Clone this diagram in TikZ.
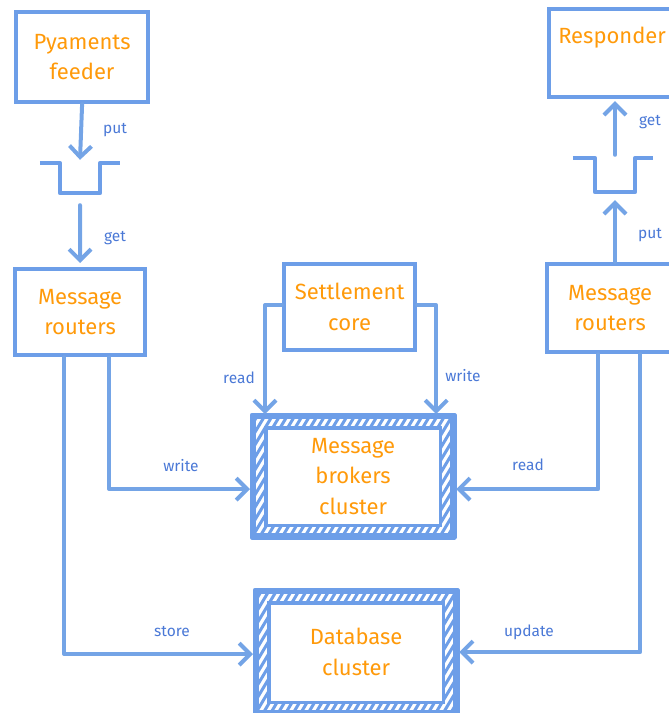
\documentclass[tikz,border=0pt]{standalone}
\usepackage{fontspec}
\setmainfont{Fira Sans}
\usetikzlibrary{arrows.meta}
\definecolor{edge}{HTML}{6D9EE8}
\definecolor{wire}{HTML}{74A4E6}
\definecolor{lbl}{HTML}{4A78D6}
\definecolor{ttl}{HTML}{FF9A0A}

% striped double frame drawn around a named cluster node
\newcommand\hatchframe[1]{%
  \begin{scope}[even odd rule]
    \clip (#1.north west) rectangle (#1.south east)
      ([shift={(14,13)}]#1.north west) rectangle ([shift={(-14,-12)}]#1.south east);
    \foreach \k in {-20,...,32}
      \draw[edge,line width=3pt] ([xshift={\k*7.5pt}]#1.south west) -- ++(84,-140);
  \end{scope}
  \draw[edge,line width=3.4pt] ([shift={(14,13)}]#1.north west) rectangle ([shift={(-14,-12)}]#1.south east);
  \draw[edge,line width=4.6pt,line join=round] (#1.north west) rectangle (#1.south east);
}

\begin{document}
\begin{tikzpicture}[x=1pt,y=-1pt,
  box/.style={draw=edge,line width=4.2pt,fill=white,anchor=north west,align=center,
    text=ttl,font=\fontsize{22}{30.5}\selectfont,inner sep=0pt},
  wirestyle/.style={draw=wire,line width=4pt,line cap=round,line join=round},
  arr/.style={wirestyle,-{Straight Barb[length=11pt,width=22pt]}},
  lab/.style={text=lbl,font=\fontsize{15.5}{17}\selectfont},
  queue/.style={minimum width=40pt,inner sep=0pt}]

\useasboundingbox (0,0) rectangle (669,713);
\clip (0,0) rectangle (669,713);

% boxes
\node[box,minimum width=132,minimum height=90] (feeder) at (14,10) {Pyaments\\feeder};
\node[box,minimum width=130,minimum height=86] (rl) at (13,267) {Message\\routers};
\node[box,minimum width=131,minimum height=86] (settle) at (282,262) {Settlement\\core};
\node[box,minimum width=126,minimum height=88] (resp) at (547,7) {Responder\\\vphantom{Ay}};
\node[box,minimum width=126,minimum height=88] (rr) at (545,262) {Message\\routers};
\node[box,minimum width=198,minimum height=118,text depth=0pt] (brokers) at (252,415) {Message\\brokers\\cluster};
\node[box,minimum width=198,minimum height=120] (db) at (255,590) {Database\\cluster};
\hatchframe{brokers}
\hatchframe{db}

% queues
\node[queue,minimum height=30pt] (q1) at (80,178) {};
\node[queue,minimum height=34pt] (q2) at (615,175) {};
\draw[wirestyle,draw=edge,line cap=butt] ([xshift=-20pt]q1.north west) -- (q1.north west) -- (q1.south west)
  -- (q1.south east) -- (q1.north east) -- ++(20,0);
\draw[wirestyle,draw=edge,line cap=butt] ([xshift=-22pt]q2.north west) -- (q2.north west) -- (q2.south west)
  -- (q2.south east) -- (q2.north east) -- ++(18,0);

% connectors
\draw[arr] (feeder.south) -- ([yshift=3pt]q1.north);
\draw[arr,shorten >=4pt] ([yshift=-12pt]q1.south) -- (rl.north);
\draw[arr] (q2.south |- rr.north) -- ([yshift=-8pt]q2.south);
\draw[arr,shorten >=2pt] ([yshift=3pt]q2.north) -- (q2.north |- resp.south);

\draw[arr,shorten >=1pt] ([yshift=2pt]settle.west) -| ([xshift=13pt]brokers.north west);
\draw[arr,shorten >=1pt] ([yshift=2pt]settle.east) -| ([xshift=-18pt]brokers.north east);

\draw[arr,shorten >=2pt] ([xshift=29pt]rl.south) |- ([yshift=-13pt]brokers.west);
\draw[arr,shorten >=2pt] ([xshift=-16pt]rl.south) |- ([yshift=-2pt]db.west);
\draw[arr,shorten >=2pt] ([xshift=-12pt]rr.south) |- ([yshift=-13pt]brokers.east);
\draw[arr,shorten >=2pt] ([xshift=30pt]rr.south) |- (db.east);

% connector labels
\node[lab] (l1) at (115,130) {put};
\node[lab] (l2) at (115,238) {get};
\node[lab] (l3) at (650,122) {get};
\node[lab] (l4) at (650,235) {put};
\node[lab] (l5) at (239,378) {read};
\node[lab] (l6) at (463,376) {write};
\node[lab] (l7) at (181,466) {write};
\node[lab] (l8) at (528,465) {read};
\node[lab] (l9) at (172,631) {store};
\node[lab] (l10) at (529,632) {update};
\end{tikzpicture}
\end{document}
